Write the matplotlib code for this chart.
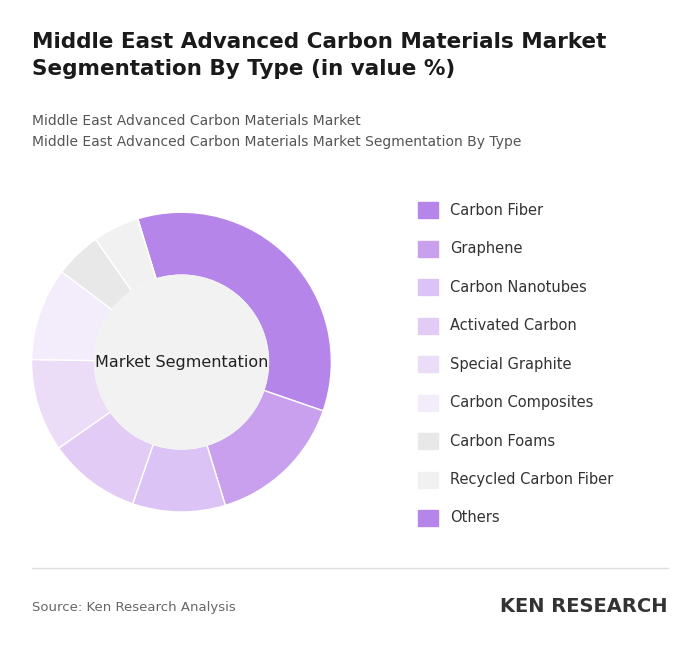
import matplotlib.pyplot as plt
from matplotlib.patches import Rectangle

labels = ["Carbon Fiber", "Graphene", "Carbon Nanotubes", "Activated Carbon", "Special Graphite",
          "Carbon Composites", "Carbon Foams", "Recycled Carbon Fiber", "Others"]
values = [35, 15, 10, 10, 10, 10, 5, 5, 0]
colors = ["#b585ea", "#c9a0ee", "#dcc3f5", "#e2ccf6", "#ebdcf8",
          "#f3ecfb", "#e8e8e8", "#f1f1f1", "#b585ea"]

fig = plt.figure(figsize=(7, 6.53), dpi=100)
fig.patch.set_facecolor("white")

fig.text(0.046, 1 - 32 / 653, "Middle East Advanced Carbon Materials Market\nSegmentation By Type (in value %)",
         fontsize=15.5, fontweight="bold", color="#1a1a1a", va="top", linespacing=1.45)
fig.text(0.046, 1 - 114 / 653, "Middle East Advanced Carbon Materials Market\nMiddle East Advanced Carbon Materials Market Segmentation By Type",
         fontsize=10, color="#555555", va="top", linespacing=1.6)

ax = fig.add_axes([0.045, 0.216, 0.4286, 0.459])
ax.pie(values, colors=colors, startangle=107, counterclock=False,
       radius=1, wedgeprops=dict(width=0.42, edgecolor="white", linewidth=1))
ax.add_patch(plt.Circle((0, 0), 0.58, color="#f2f2f2", zorder=3))
ax.text(0, 0, "Market Segmentation", ha="center", va="center", fontsize=11.5, color="#222222", zorder=4)
ax.set_xlim(-1, 1)
ax.set_ylim(-1, 1)
ax.set_aspect("equal")
ax.axis("off")

for i, (lab, c) in enumerate(zip(labels, colors)):
    y = 1 - (210 + i * 38.5) / 653
    fig.patches.append(Rectangle((418 / 700, y - 8 / 653), 20 / 700, 16 / 653,
                                 transform=fig.transFigure, color=c))
    fig.text(450 / 700, y, lab, fontsize=10.5, color="#333333", va="center")

fig.add_artist(plt.Line2D([0.046, 0.954], [1 - 568 / 653] * 2, color="#dddddd", lw=1))
fig.text(0.046, 1 - 607 / 653, "Source: Ken Research Analysis", fontsize=9.5, color="#666666", va="center")
fig.text(0.954, 1 - 606 / 653, "KEN RESEARCH", fontsize=14, fontweight="bold", color="#333333",
         va="center", ha="right")

fig.savefig("out.png", dpi=100, facecolor="white")
